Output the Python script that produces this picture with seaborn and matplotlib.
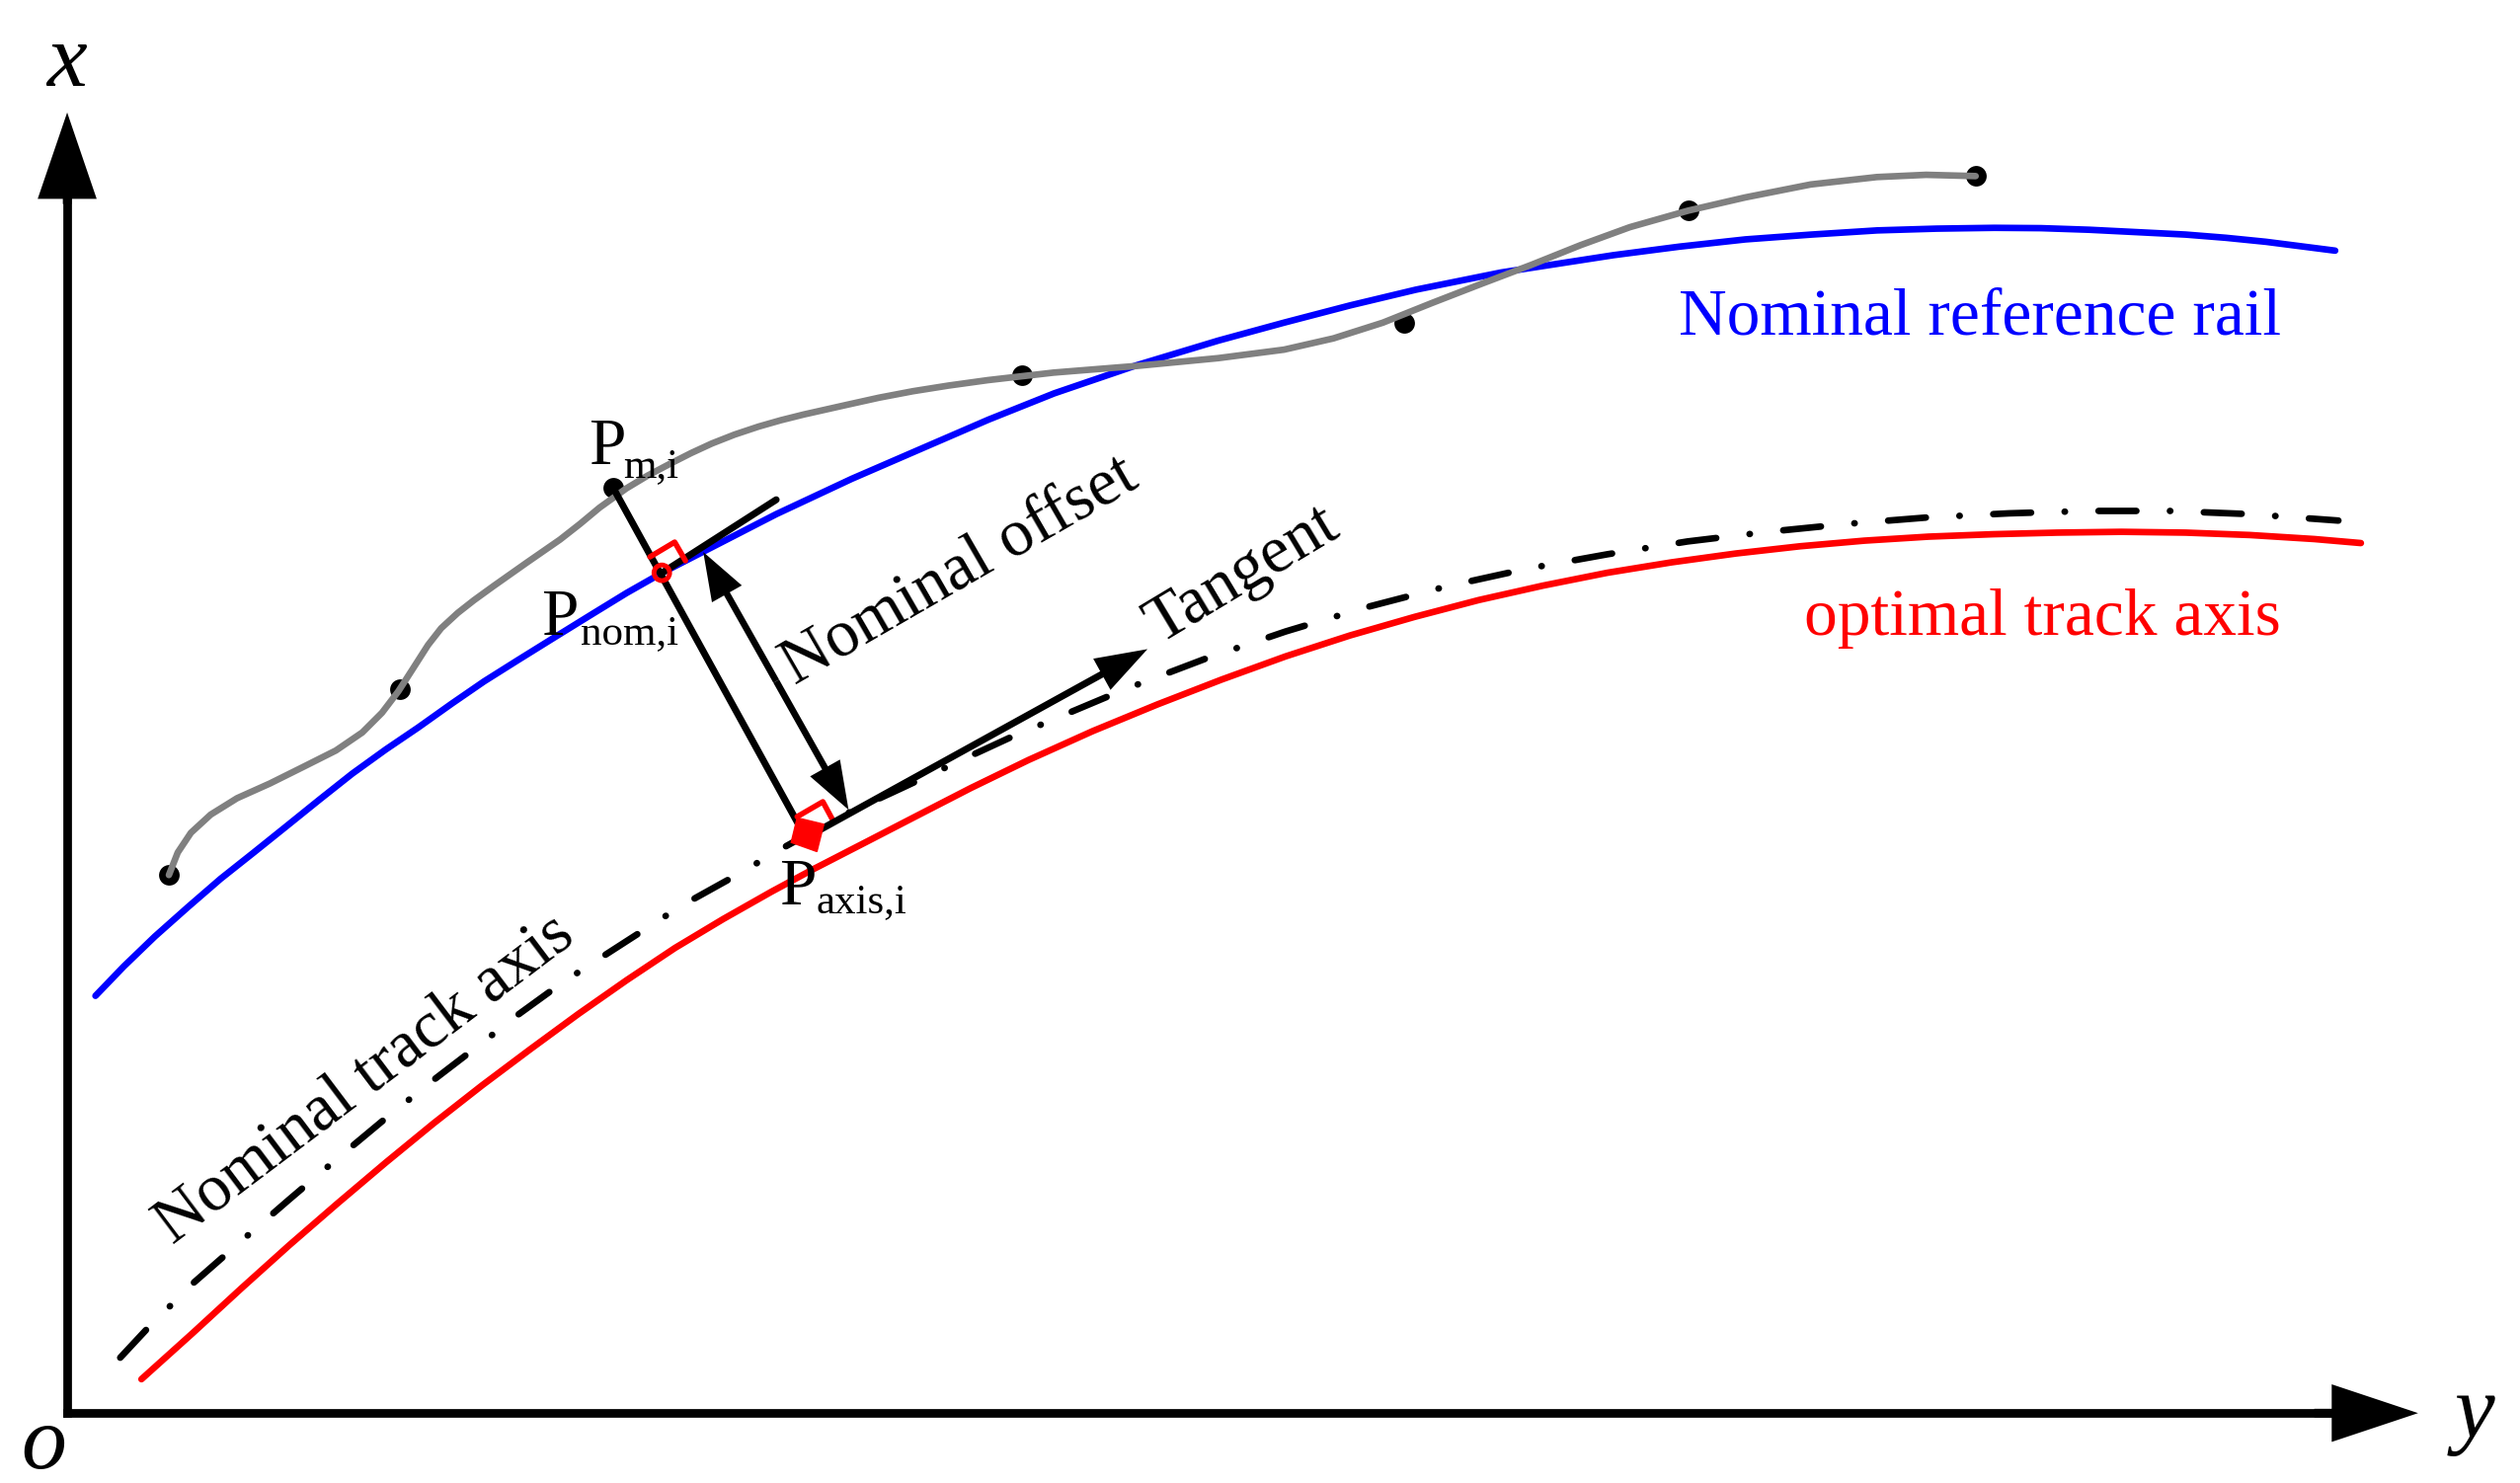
import matplotlib
matplotlib.use("Agg")
import matplotlib.pyplot as plt
import seaborn as sns
import pandas as pd

blue_x = [59.4, 77, 96.3, 117, 137.2, 158, 178.3, 199, 219.2, 240, 260.2, 281, 301.2, 322, 342.1, 368.8, 390, 412, 448, 483, 530, 575, 615, 656, 707, 758, 799, 840, 881, 934, 1004, 1045, 1086, 1127, 1168, 1205, 1241, 1270, 1300, 1330, 1360, 1385, 1410, 1453]
blue_y = [619.8, 601.5, 582.9, 564.5, 547, 530.5, 514.2, 497.5, 481.5, 466.5, 452.8, 438, 424.1, 411, 398.5, 382, 369, 356.5, 338, 320, 298, 278.5, 261.2, 244.8, 227.4, 212, 200.8, 190.1, 180.3, 169.6, 158.8, 153.5, 149, 146, 143.4, 142.3, 141.8, 142, 143, 144.5, 146, 148, 150.5, 156]

gray_x = [105.1, 110.6, 118.8, 131.1, 147.5, 168, 188.5, 209, 225.4, 237.7, 247.9, 257.1, 266.3, 274.5, 284.8, 295, 307.3, 328, 348.5, 361, 373, 389.7, 403, 417, 430, 443, 457, 472, 486, 500, 526.7, 547, 568, 590, 614.6, 655.6, 706.8, 758, 799, 829.7, 860.5, 891.2, 921.9, 952.7, 983.4, 1014.1, 1050.4, 1085.8, 1126.7, 1167.8, 1198.5, 1229.3]
gray_y = [544.6, 530.6, 518.3, 507, 496.8, 487.6, 477.4, 467.1, 455.9, 443.6, 430.2, 415.9, 401.5, 391, 381.5, 373.5, 364.6, 350, 335.8, 326, 316, 304, 296, 288.6, 282, 276, 270.5, 265.5, 261.5, 258, 252, 247.5, 243.5, 240, 236.6, 231.9, 227.8, 222.9, 217.6, 210.6, 200.8, 188.5, 176.6, 164.9, 152.6, 141.4, 131.1, 122.9, 114.8, 110.2, 108.8, 109.6]

red_x = [88, 120, 150, 180, 210, 240, 270, 300, 330, 360, 390, 420, 450, 480, 506, 540, 570, 604, 640, 680, 720, 760, 800, 840, 880, 920, 960, 1000, 1040, 1080, 1120, 1160, 1200, 1240, 1280, 1320, 1360, 1400, 1440, 1469]
red_y = [858.4, 829.6, 802, 775, 749, 723.6, 699, 675.5, 653, 631, 610, 590, 572, 555, 541, 523.5, 508, 490.5, 473, 455, 438.5, 423, 408.5, 395.5, 384, 373.5, 364.5, 356.5, 350, 344.5, 340, 336.5, 334, 332.5, 331.5, 331, 331.5, 333, 335.5, 338]

axis_x = [74.8, 93.8, 107, 120.9, 150, 180, 210, 240, 270, 300, 321.7, 344.2, 360, 414.3, 430.2, 455.9, 487.6, 520, 560, 604.4, 631, 647, 700, 750, 800, 850, 900, 950, 1000, 1050, 1100, 1150, 1200, 1250, 1300, 1350, 1400, 1455]
axis_y = [845, 824.6, 811.7, 798, 772.5, 746.5, 721, 696, 672, 649, 632, 615.7, 605, 570, 560.3, 546, 527.5, 509.5, 491, 470.2, 457.9, 451.3, 429, 410, 393, 378, 365, 354, 345, 337, 331, 326, 322, 319.5, 318, 318, 320, 324]

# Measured points on the rail
dot_x = [105.1, 248.9, 381.4, 636, 873.4, 1050.4, 1229.3]
dot_y = [544.6, 429.2, 303.4, 233.6, 200.8, 131.1, 109.6]

# Construction lines
normal_x = [381.4, 499]
normal_y = [303.4, 517]
nom_tangent_x = [412, 483]
nom_tangent_y = [356.5, 311]
nom_square_x = [404.4, 419.8, 426.5]
nom_square_y = [346.6, 337.4, 349]
axis_square_x = [496, 512, 518.7]
axis_square_y = [508.3, 499, 511.4]
foot_x = [496, 512.6, 508.3, 492.3]
foot_y = [509, 513, 530, 524.3]

sns.set_theme(style="white")
plt.rcParams['font.family'] = ['Liberation Serif', 'DejaVu Serif']
plt.rcParams['text.color'] = 'black'

fig = plt.figure(figsize=(25.52, 15.02), dpi=100)
# Axes rectangle is set so the spines sit where the drawn x/y axes are
W, H = 1568, 923
X0, Y0, X1, Y1 = 41.8, 879.5, 1450, 120
ax = fig.add_axes([X0 / W, 1 - Y0 / H, (X1 - X0) / W, (Y0 - Y1) / H])
ax.set_xlim(X0, X1)
ax.set_ylim(Y0, Y1)
ax.set_xticks([])
ax.set_yticks([])
sns.despine(ax=ax)
for side in ['left', 'bottom']:
    ax.spines[side].set_linewidth(6.3)
    ax.spines[side].set_color('black')


def draw_curve(x, y, color, lw, **kws):
    df = pd.DataFrame({'x': x, 'y': y})
    sns.lineplot(data=df, x='x', y='y', color=color, linewidth=lw, estimator=None,
                 errorbar=None, sort=False, ax=ax, clip_on=False, **kws)
    ax.set_xlabel('')
    ax.set_ylabel('')


def draw_arrow(tail, tip, width, head_w, head_l):
    ax.annotate('', xy=tip, xytext=tail, annotation_clip=False,
                arrowprops=dict(width=width, headwidth=head_w, headlength=head_l,
                                facecolor='black', edgecolor='none', linewidth=0, shrink=0))


sns.scatterplot(x=dot_x, y=dot_y, color='black', s=225, linewidth=0, ax=ax, clip_on=False, zorder=1.5)

draw_curve(blue_x, blue_y, '#0000ff', 4.8, solid_capstyle='round')
draw_curve(red_x, red_y, '#ff0000', 4.8, solid_capstyle='round')
draw_curve(gray_x, gray_y, '#808080', 4.8, solid_capstyle='round')
draw_curve(axis_x, axis_y, 'black', 4.8, linestyle=(0, (5.75, 5.1, 0.05, 5.1)), dash_capstyle='round')

draw_curve(normal_x, normal_y, 'black', 5)
draw_curve(nom_tangent_x, nom_tangent_y, 'black', 5, solid_capstyle='round')

# Axis arrows (shaft hidden under the spine, only the head shows)
draw_arrow((X0, 127), (X0, 70), 6.3, 43, 63)
draw_arrow((1440, Y0), (1504.6, Y0), 6.3, 42, 63)

# Tangent and offset arrows
draw_arrow((502, 521), (714, 404), 5, 26, 38)
draw_arrow((483, 424), (437.6, 343.6), 4.8, 25, 35)
draw_arrow((483, 424), (528, 504), 4.8, 25, 35)

# Right angle marks and foot points
draw_curve(nom_square_x, nom_square_y, '#ff0000', 4)
draw_curve(axis_square_x, axis_square_y, '#ff0000', 4)
ax.fill(foot_x, foot_y, color='#ff0000', zorder=5, clip_on=False)
sns.scatterplot(x=[411.8], y=[356.5], facecolor='none', edgecolor='#ff0000', s=130, linewidth=3.5,
                ax=ax, clip_on=False, zorder=5)

# Labels
FS = 48.5
SUB = 31
ax.text(41.6, 53.7, 'x', fontsize=66, style='italic', ha='center', va='baseline')
ax.text(1539.8, 895, 'y', fontsize=66, style='italic', ha='center', va='baseline')
ax.text(27.4, 914, 'o', fontsize=66, style='italic', ha='center', va='baseline')

ax.text(1232, 208, 'Nominal reference rail', color='#0000ff', fontsize=FS, ha='center', va='baseline')
ax.text(1271, 395, 'optimal track axis', color='#ff0000', fontsize=FS, ha='center', va='baseline')

ax.text(597, 355, 'Nominal offset', fontsize=FS, rotation=30, rotation_mode='anchor', ha='center', va='center')
ax.text(773, 358, 'Tangent', fontsize=FS, rotation=31, rotation_mode='anchor', ha='center', va='center')
ax.text(227, 672, 'Nominal track axis', fontsize=FS, rotation=37, rotation_mode='anchor', ha='center', va='center')

ax.text(366, 289, 'P', fontsize=FS, ha='left', va='baseline')
ax.text(388, 297, 'm,i', fontsize=SUB, ha='left', va='baseline')
ax.text(337, 395, 'P', fontsize=FS, ha='left', va='baseline')
ax.text(361, 401, 'nom,i', fontsize=SUB, ha='left', va='baseline')
ax.text(485, 563, 'P', fontsize=FS, ha='left', va='baseline')
ax.text(508, 568, 'axis,i', fontsize=SUB, ha='left', va='baseline')

fig.savefig('out.png', dpi=100, facecolor='white')
